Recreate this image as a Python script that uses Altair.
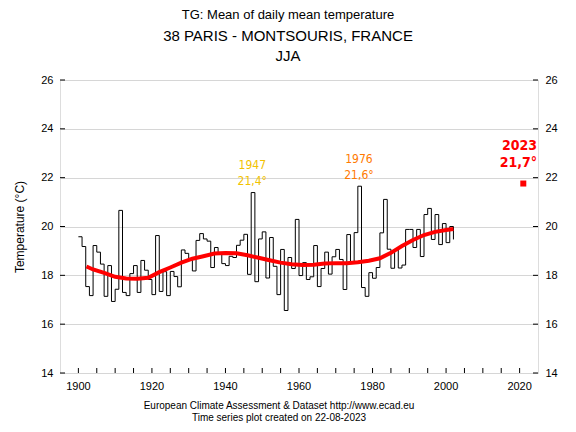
import altair as alt
import pandas as pd

# ---------------- data ----------------
years = list(range(1900, 2003))
tg = [
    19.58, 19.18, 17.54, 17.17, 19.22, 18.95, 18.46, 17.14, 18.40, 16.93,  # 1900-1909
    17.43, 20.66, 17.30, 17.17, 18.07, 18.40, 17.30, 18.61, 18.21, 17.83,  # 1910-1919
    17.21, 19.63, 17.34, 18.15, 17.17, 18.16, 17.95, 17.53, 19.04, 18.90,  # 1920-1929
    18.69, 18.18, 19.43, 19.71, 19.49, 19.40, 18.32, 19.14, 18.87, 18.48,  # 1930-1939
    18.40, 18.78, 18.73, 19.23, 19.44, 19.68, 18.04, 21.39, 17.74, 19.49,  # 1940-1949
    19.78, 17.89, 19.55, 18.37, 17.21, 19.06, 16.56, 18.73, 18.28, 20.29,  # 1950-1959
    17.99, 18.52, 17.83, 17.94, 19.22, 17.54, 18.28, 18.95, 18.05, 18.76,  # 1960-1969
    19.06, 18.65, 17.42, 19.67, 18.50, 19.75, 21.65, 17.50, 17.14, 18.11,  # 1970-1979
    17.88, 18.32, 19.74, 21.11, 19.07, 18.29, 19.05, 18.30, 18.42, 19.88,  # 1980-1989
    19.88, 19.14, 19.88, 18.77, 20.49, 20.74, 19.47, 20.49, 19.26, 20.12,  # 1990-1999
    19.34, 20.00, 19.47,                                                   # 2000-2002
]

smooth_years = [1902.2, 1904, 1907, 1910, 1913, 1916, 1919, 1922, 1925, 1928,
                1931, 1934, 1937, 1940, 1943, 1946, 1949, 1952, 1955, 1958,
                1961, 1964, 1967, 1970, 1973, 1976, 1979, 1982, 1985, 1988,
                1991, 1994, 1997, 2000, 2002]
smooth_vals = [18.36, 18.24, 18.10, 17.94, 17.87, 17.86, 17.90, 18.13, 18.32, 18.52,
               18.68, 18.78, 18.89, 18.91, 18.90, 18.82, 18.72, 18.62, 18.52, 18.45,
               18.42, 18.43, 18.48, 18.50, 18.50, 18.54, 18.60, 18.70, 18.92, 19.20,
               19.45, 19.65, 19.78, 19.86, 19.90]

ann_years = [1947.3, 1976.3]
ann_vals = [21.39, 21.60]
ann_texts = ["1947\n21,4°", "1976\n21,6°"]
ann_colors = ["#f2c200", "#ff7a00"]

last_x = 2021          # where the 2023 marker is drawn
last_val = 21.76
last_text = "2023\n21,7°"

x_ticks = list(range(1900, 2021, 5))
x_labels = [1900, 1920, 1940, 1960, 1980, 2000, 2020]
y_ticks = [14, 16, 18, 20, 22, 24, 26]

title1 = "TG: Mean of daily mean temperature"
title2 = "38 PARIS - MONTSOURIS, FRANCE"
title3 = "JJA"
foot1 = "European Climate Assessment & Dataset  http://www.ecad.eu"
foot2 = "Time series plot created on 22-08-2023"

# ---------------- chart ----------------
W, H = 478, 293
FONT = "Liberation Sans"
AFONT = "DejaVu Sans Condensed, DejaVu Sans"

xsc = alt.Scale(domain=[1895, 2025], nice=False, zero=False)
ysc = alt.Scale(domain=[14, 26], nice=False, zero=False)

df = pd.DataFrame({"year": years, "tg": tg})
sm = pd.DataFrame({"year": smooth_years, "v": smooth_vals})
ann = pd.DataFrame({"year": ann_years, "v": ann_vals, "t": ann_texts, "c": ann_colors})
last = pd.DataFrame({"year": [last_x], "v": [last_val], "t": [last_text]})
xt = pd.DataFrame({"yr": x_ticks})
xl = pd.DataFrame({"yr": x_labels, "t": [str(v) for v in x_labels]})
yt = pd.DataFrame({"v": y_ticks})

step = alt.Chart(df).mark_line(interpolate="step-after", color="black", strokeWidth=1).encode(
    x=alt.X("year:Q", scale=xsc, axis=None),
    y=alt.Y("tg:Q", scale=ysc,
            axis=alt.Axis(values=y_ticks, title="Temperature (°C)", grid=True, gridColor="#d6d6d6",
                          ticks=False, domain=False, labelFontSize=11, labelFont=FONT,
                          labelColor="black", labelPadding=7, titleFont=FONT, titleFontSize=12,
                          titleFontWeight="normal", titleColor="black", titlePadding=14)),
)

smooth = alt.Chart(sm).mark_line(color="#ff0000", strokeWidth=4).encode(
    x=alt.X("year:Q", scale=xsc, axis=None),
    y=alt.Y("v:Q", scale=ysc,
            axis=alt.Axis(orient="right", values=y_ticks, title=None, grid=False, ticks=False,
                          domain=False, labelFontSize=11, labelFont=FONT, labelColor="black",
                          labelPadding=7)),
)

xtick_rules = alt.Chart(xt).mark_rule(color="black").encode(
    x=alt.X("yr:Q", scale=xsc, axis=None), y=alt.value(H), y2=alt.value(H - 5))
xlabels = alt.Chart(xl).mark_text(font=FONT, fontSize=11, color="black", baseline="middle").encode(
    x=alt.X("yr:Q", scale=xsc, axis=None), y=alt.value(H + 14), text="t:N")
ytick_left = alt.Chart(yt).mark_rule(color="black").encode(
    y=alt.Y("v:Q", scale=ysc, axis=None), x=alt.value(0), x2=alt.value(5))
ytick_right = alt.Chart(yt).mark_rule(color="black").encode(
    y=alt.Y("v:Q", scale=ysc, axis=None), x=alt.value(W - 5), x2=alt.value(W))

ann_text = alt.Chart(ann).mark_text(font=AFONT, fontSize=12, lineBreak="\n",
                                    lineHeight=16, baseline="bottom", dy=-21).encode(
    x=alt.X("year:Q", scale=xsc, axis=None),
    y=alt.Y("v:Q", scale=ysc, axis=None),
    text="t:N",
    color=alt.Color("c:N", scale=None),
)

last_pt = alt.Chart(last).mark_square(size=36, color="#ff0000", opacity=1).encode(
    x=alt.X("year:Q", scale=xsc, axis=None),
    y=alt.Y("v:Q", scale=ysc, axis=None),
)
last_lab = alt.Chart(last).mark_text(font=AFONT, fontSize=14, fontWeight="bold", lineBreak="\n",
                                     lineHeight=17, baseline="bottom", align="right",
                                     color="#ff0000", dy=-31).encode(
    x=alt.value(W - 1),
    y=alt.Y("v:Q", scale=ysc, axis=None),
    text="t:N",
)


def label(txt, x, y, size):
    return alt.Chart(pd.DataFrame({"t": [txt]})).mark_text(
        font=FONT, fontSize=size, color="black", align="center", baseline="middle"
    ).encode(text="t:N", x=alt.value(x), y=alt.value(y))


cx = 288 - 60
texts = [
    label(title1, cx, 15 - 80, 13),
    label(title2, cx, 36 - 80, 15),
    label(title3, cx, 56 - 80, 15),
    label(foot1, 279 - 60, 406 - 80, 10),
    label(foot2, 279 - 60, 418 - 80, 10),
]

chart = alt.layer(
    step, smooth, xtick_rules, xlabels, ytick_left, ytick_right, ann_text, last_pt, last_lab, *texts
).resolve_scale(y="independent").properties(
    width=W, height=H,
    autosize=alt.AutoSizeParams(type="none"),
    padding={"left": 52, "top": 72, "right": 30, "bottom": 51},
).configure_view(stroke="black", strokeWidth=1).configure(background="white")

chart.save("out.html", embed_options={"renderer": "svg", "actions": False})
